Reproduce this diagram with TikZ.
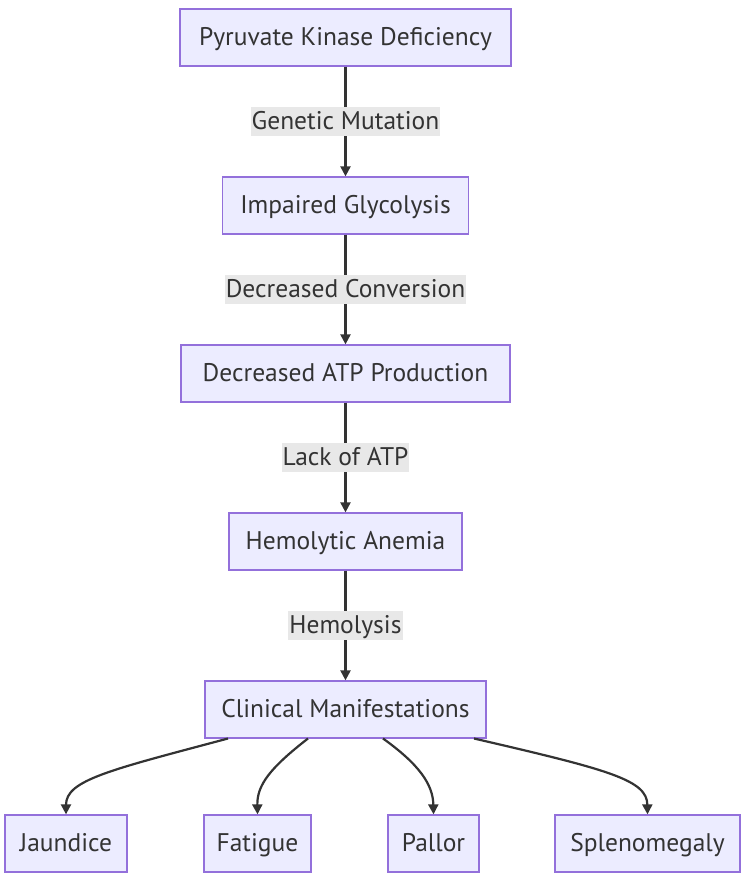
\documentclass[tikz,border=0pt]{standalone}
\usepackage{fontspec}
\setmainfont{PT Sans}
\usetikzlibrary{arrows.meta}
\definecolor{boxfill}{HTML}{ECECFF}
\definecolor{boxdraw}{HTML}{9370DB}
\definecolor{ink}{HTML}{333333}
\definecolor{lblbg}{HTML}{E8E8E8}
\tikzset{
  txt/.style={font=\fontsize{25.5}{30}\selectfont, text height=20pt, text depth=3.5pt},
  box/.style={draw=boxdraw, fill=boxfill, line width=1.3pt, minimum height=57pt,
    inner sep=0pt, text=ink, txt},
  lbl/.style={fill=lblbg, text=ink, inner xsep=1pt, inner ysep=2.5pt, txt},
  conn/.style={draw=ink, line width=2.2pt, -{Triangle[length=10pt,width=10pt]}}
}
\begin{document}
\begin{tikzpicture}[x=1pt,y=-1pt]
\useasboundingbox (0,0) rectangle (750,887);
\node[box, minimum width=331pt] (a) at (345.5,37.5) {Pyruvate Kinase Deficiency};
\node[box, minimum width=246pt] (b) at (345.5,205.5) {Impaired Glycolysis};
\node[box, minimum width=329pt] (c) at (345.5,373.5) {Decreased ATP Production};
\node[box, minimum width=233pt] (d) at (345.5,541.5) {Hemolytic Anemia};
\node[box, minimum width=281pt] (e) at (345.5,709.5) {Clinical Manifestations};
\node[box, minimum width=122pt] (j) at (66,843.5) {Jaundice};
\node[box, minimum width=107pt] (f) at (257.5,843.5) {Fatigue};
\node[box, minimum width=91pt] (p) at (433.5,843.5) {Pallor};
\node[box, minimum width=185pt] (s) at (647.5,843.5) {Splenomegaly};

\draw[conn] (a) -- node[lbl] {Genetic Mutation} (b);
\draw[conn] (b) -- node[lbl] {Decreased Conversion} (c);
\draw[conn] (c) -- node[lbl] {Lack of ATP} (d);
\draw[conn] (d) -- node[lbl] {Hemolysis} (e);

\coordinate (e1) at (228,738.5);
\coordinate (e2) at (308,738.5);
\coordinate (e3) at (383,738.5);
\coordinate (e4) at (474,738.5);
\draw[conn] (e1) .. controls (110,770) and (66,780) .. (j.north);
\draw[conn] (e2) .. controls (270,768) and (257,785) .. (f.north);
\draw[conn] (e3) .. controls (420,765) and (433,785) .. (p.north);
\draw[conn] (e4) .. controls (610,770) and (647,780) .. (s.north);
\end{tikzpicture}
\end{document}
